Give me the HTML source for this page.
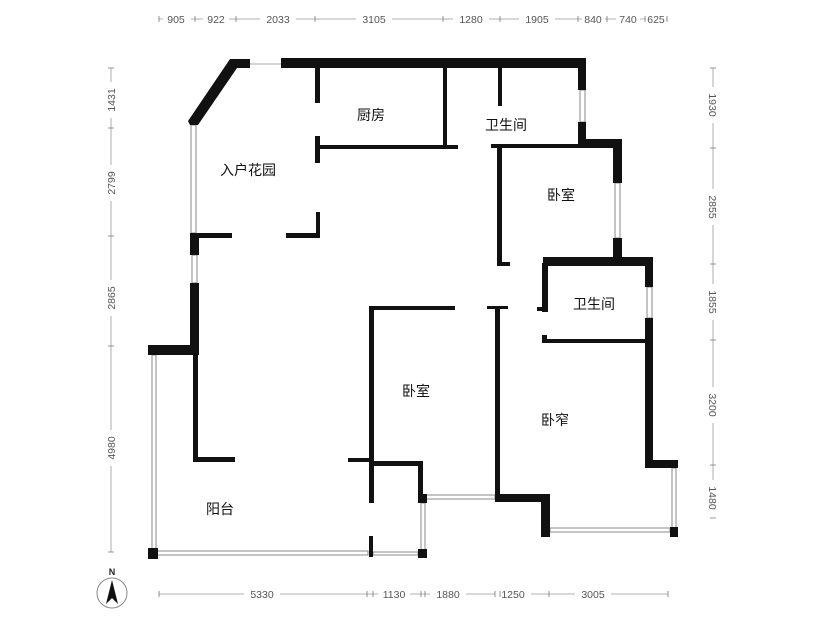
<!DOCTYPE html>
<html><head><meta charset="utf-8"><style>
html,body{margin:0;padding:0;background:#fff;}
svg{display:block;}
.d{font-family:"Liberation Sans",sans-serif;font-size:10.5px;fill:#555;}
.l{font-family:"Liberation Sans","Noto Sans CJK SC",sans-serif;font-size:14px;fill:#111;}
</style></head><body>
<svg width="829" height="620" viewBox="0 0 829 620" xmlns="http://www.w3.org/2000/svg">
<rect width="829" height="620" fill="#fff"/>
<g stroke="#999" stroke-width="0.8" fill="none">
<line x1="159" y1="19" x2="667" y2="19"/>
<line x1="159" y1="594" x2="668" y2="594"/>
<line x1="111" y1="68" x2="111" y2="552"/>
<line x1="713" y1="68" x2="713" y2="510"/>
</g>
<g fill="#fff">
<rect x="163" y="13" width="28" height="12"/><rect x="203" y="13" width="26" height="12"/><rect x="260" y="13" width="36" height="12"/>
<rect x="356" y="13" width="36" height="12"/><rect x="453" y="13" width="36" height="12"/><rect x="519" y="13" width="36" height="12"/>
<rect x="582" y="13" width="23" height="12"/><rect x="616" y="13" width="24" height="12"/><rect x="646" y="13" width="20" height="12"/>
<rect x="244" y="588" width="36" height="12"/><rect x="378" y="588" width="32" height="12"/><rect x="430" y="588" width="36" height="12"/>
<rect x="495" y="588" width="36" height="12"/><rect x="575" y="588" width="36" height="12"/>
<rect x="105" y="82" width="12" height="36"/><rect x="105" y="165" width="12" height="36"/><rect x="105" y="280" width="12" height="36"/><rect x="105" y="430" width="12" height="36"/>
<rect x="707" y="87" width="12" height="36"/><rect x="707" y="189" width="12" height="36"/><rect x="707" y="284" width="12" height="36"/><rect x="707" y="387" width="12" height="36"/><rect x="707" y="480" width="12" height="36"/>
</g>
<g stroke="#777" stroke-width="0.8">
<path d="M159 16v6M195 16v6M236 16v6M315 16v6M443 16v6M500 16v6M578 16v6M607 16v6M645 16v6M667 16v6"/>
<path d="M159 591v6M367 591v6M373 591v6M421 591v6M425 591v6M495 591v6M500 591v6M549 591v6M668 591v6"/>
<path d="M108 68h6M108 128h6M108 236h6M108 346h6M108 552h6"/>
<path d="M710 68h6M710 148h6M710 264h6M710 340h6M710 465h6M710 518h6"/>
</g>
<g class="d" text-anchor="middle">
<text x="176" y="23">905</text><text x="216" y="23">922</text><text x="278" y="23">2033</text><text x="374" y="23">3105</text>
<text x="471" y="23">1280</text><text x="537" y="23">1905</text><text x="593" y="23">840</text><text x="628" y="23">740</text><text x="656" y="23">625</text>
<text x="262" y="598">5330</text><text x="394" y="598">1130</text><text x="448" y="598">1880</text><text x="513" y="598">1250</text><text x="593" y="598">3005</text>
<text transform="translate(115,100) rotate(-90)">1431</text>
<text transform="translate(115,183) rotate(-90)">2799</text>
<text transform="translate(115,298) rotate(-90)">2865</text>
<text transform="translate(115,448) rotate(-90)">4980</text>
<text transform="translate(709,105) rotate(90)">1930</text>
<text transform="translate(709,207) rotate(90)">2855</text>
<text transform="translate(709,302) rotate(90)">1855</text>
<text transform="translate(709,405) rotate(90)">3200</text>
<text transform="translate(709,498) rotate(90)">1480</text>
</g>
<g fill="#fff" stroke="#888" stroke-width="1">
<line x1="250" y1="64" x2="281" y2="64" stroke="#aaa"/>
<rect x="191" y="125" width="5" height="108"/>
<rect x="192" y="255" width="5" height="28"/>
<rect x="152" y="355" width="4" height="195"/>
<rect x="156" y="551" width="212" height="4"/>
<rect x="373" y="552" width="45" height="3"/>
<rect x="421" y="503" width="4" height="47"/>
<rect x="423" y="495" width="72" height="4"/>
<rect x="580" y="90" width="5" height="32"/>
<rect x="615" y="183" width="5" height="55"/>
<rect x="647" y="287" width="5" height="31"/>
<rect x="672" y="468" width="4" height="60"/>
<rect x="550" y="528" width="120" height="4"/>
</g>
<g fill="#111">
<polygon points="230,59 250,59 250,68 237,68 198,125 190,125 188,121"/>
<rect x="281" y="58" width="305" height="10"/>
<rect x="578" y="58" width="8" height="32"/>
<rect x="578" y="122" width="8" height="26"/>
<rect x="578" y="139" width="44" height="9"/>
<rect x="613" y="139" width="9" height="44"/>
<rect x="613" y="238" width="9" height="28"/>
<rect x="543" y="257" width="110" height="9"/>
<rect x="645" y="257" width="8" height="30"/>
<rect x="645" y="318" width="8" height="150"/>
<rect x="645" y="460" width="33" height="8"/>
<rect x="670" y="527" width="8" height="10"/>
<rect x="541" y="494" width="9" height="43"/>
<rect x="495" y="494" width="55" height="8"/>
<rect x="495" y="306" width="5" height="196"/>
<rect x="487" y="306" width="21" height="3"/>
<rect x="542" y="263" width="6" height="49"/>
<rect x="537" y="307" width="10" height="4"/>
<rect x="542" y="339" width="105" height="4"/>
<rect x="542" y="335" width="5" height="8"/>
<rect x="315" y="68" width="5" height="35"/>
<rect x="315" y="136" width="5" height="27"/>
<rect x="315" y="145" width="143" height="4"/>
<rect x="443" y="68" width="4" height="81"/>
<rect x="498" y="68" width="4" height="38"/>
<rect x="491" y="144" width="88" height="4"/>
<rect x="497" y="144" width="5" height="122"/>
<rect x="497" y="262" width="13" height="4"/>
<rect x="190" y="233" width="9" height="22"/>
<rect x="190" y="233" width="42" height="5"/>
<rect x="286" y="233" width="34" height="5"/>
<rect x="316" y="212" width="4" height="26"/>
<rect x="190" y="283" width="9" height="72"/>
<rect x="148" y="345" width="51" height="10"/>
<rect x="193" y="350" width="5" height="111"/>
<rect x="193" y="457" width="42" height="5"/>
<rect x="148" y="548" width="10" height="11"/>
<rect x="369" y="306" width="5" height="197"/>
<rect x="369" y="306" width="86" height="4"/>
<rect x="348" y="458" width="24" height="4"/>
<rect x="369" y="461" width="52" height="5"/>
<rect x="418" y="461" width="5" height="39"/>
<rect x="418" y="494" width="9" height="9"/>
<rect x="418" y="549" width="9" height="9"/>
<rect x="369" y="536" width="4" height="21"/>
</g>
<g class="l" text-anchor="middle">
<text x="371" y="120">厨房</text>
<text x="506" y="130">卫生间</text>
<text x="248" y="175">入户花园</text>
<text x="561" y="200">卧室</text>
<text x="594" y="309">卫生间</text>
<text x="416" y="396">卧室</text>
<text x="555" y="425">卧窄</text>
<text x="220" y="514">阳台</text>
</g>
<circle cx="112" cy="593" r="15" fill="#fff" stroke="#888" stroke-width="1"/>
<polygon points="112,580 106,604 112,598 118,604" fill="#111"/>
<text x="112" y="575" text-anchor="middle" font-family="Liberation Sans,sans-serif" font-size="9" font-weight="bold" fill="#222">N</text>
</svg>
</body></html>
